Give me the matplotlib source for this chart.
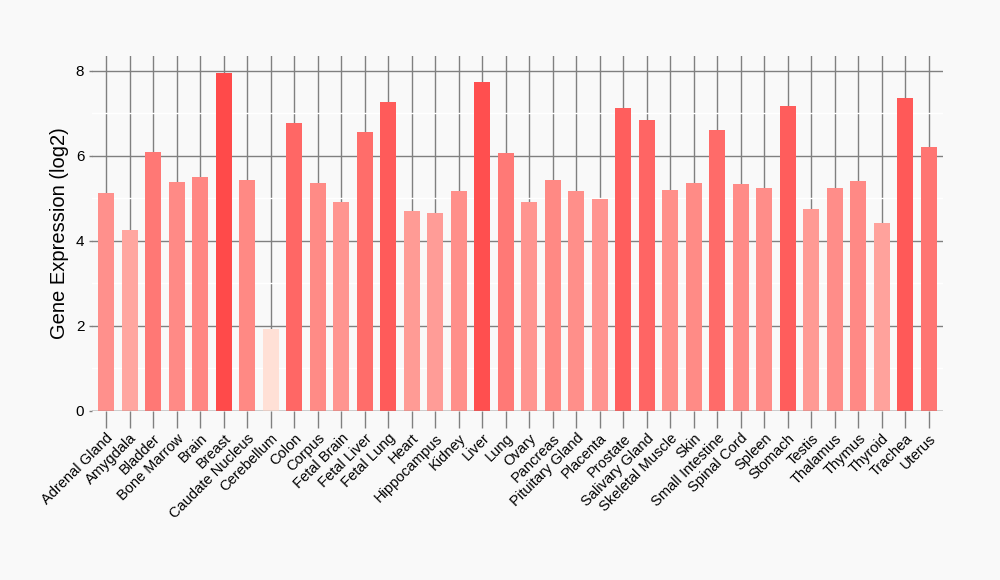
import matplotlib
matplotlib.use("Agg")
import matplotlib.pyplot as plt
import numpy as np

tissues = ["Adrenal Gland", "Amygdala", "Bladder", "Bone Marrow", "Brain", "Breast",
           "Caudate Nucleus", "Cerebellum", "Colon", "Corpus", "Fetal Brain", "Fetal Liver",
           "Fetal Lung", "Heart", "Hippocampus", "Kidney", "Liver", "Lung", "Ovary",
           "Pancreas", "Pituitary Gland", "Placenta", "Prostate", "Salivary Gland",
           "Skeletal Muscle", "Skin", "Small Intestine", "Spinal Cord", "Spleen", "Stomach",
           "Testis", "Thalamus", "Thymus", "Thyroid", "Trachea", "Uterus"]
expression = [5.13, 4.26, 6.09, 5.39, 5.51, 7.95, 5.44, 1.93, 6.78, 5.36, 4.92, 6.56,
              7.27, 4.71, 4.66, 5.18, 7.74, 6.07, 4.92, 5.44, 5.18, 4.99, 7.13, 6.85,
              5.20, 5.36, 6.61, 5.34, 5.25, 7.18, 4.75, 5.25, 5.41, 4.42, 7.36, 6.21]
y_ticks = [0, 2, 4, 6, 8]

plt.rcParams['font.family'] = ['Liberation Sans', 'DejaVu Sans']

vals = np.array(expression)
lo = np.array([255, 224, 214]) / 255.0
hi = np.array([255, 74, 74]) / 255.0
frac = (vals - vals.min()) / (vals.max() - vals.min())
colors = [tuple(lo + (hi - lo) * f) for f in frac]

bg = "#F9F9F9"
fig = plt.figure(figsize=(10, 5.8), dpi=100, facecolor=bg)
ax = fig.add_axes([0.092, 169 / 580, 0.851, (411 - 56) / 580])
ax.set_facecolor(bg)

x = np.arange(len(tissues))
ax.bar(x, vals, width=0.68, color=colors, zorder=3)
ax.axhline(0, color='#808080', linewidth=1, zorder=4)

ax.set_xlim(-0.6, len(tissues) - 0.4)
ax.set_ylim(0, 8.35)
ax.set_yticks(y_ticks)
ax.set_yticks([1, 3, 5, 7], minor=True)
ax.set_xticks(x)
ax.set_xticklabels(tissues, rotation=45, ha='right', rotation_mode='anchor', fontsize=10.5)
ax.tick_params(axis='x', length=12.5, color='#808080', width=1, pad=2)
ax.tick_params(axis='y', which='major', length=2.5, color='#808080', width=1, labelsize=11, pad=3)
ax.tick_params(axis='y', which='minor', length=0)

ax.grid(True, axis='x', color='#808080', linewidth=1, zorder=1)
ax.grid(True, axis='y', which='major', color='#808080', linewidth=1, zorder=1)
ax.grid(True, axis='y', which='minor', color='white', linewidth=1, zorder=1)
ax.set_axisbelow(True)
for s in ax.spines.values():
    s.set_visible(False)

ax.set_ylabel("Gene Expression (log2)", fontsize=14.5, labelpad=5)

fig.savefig("out.png", dpi=100, facecolor=bg)
